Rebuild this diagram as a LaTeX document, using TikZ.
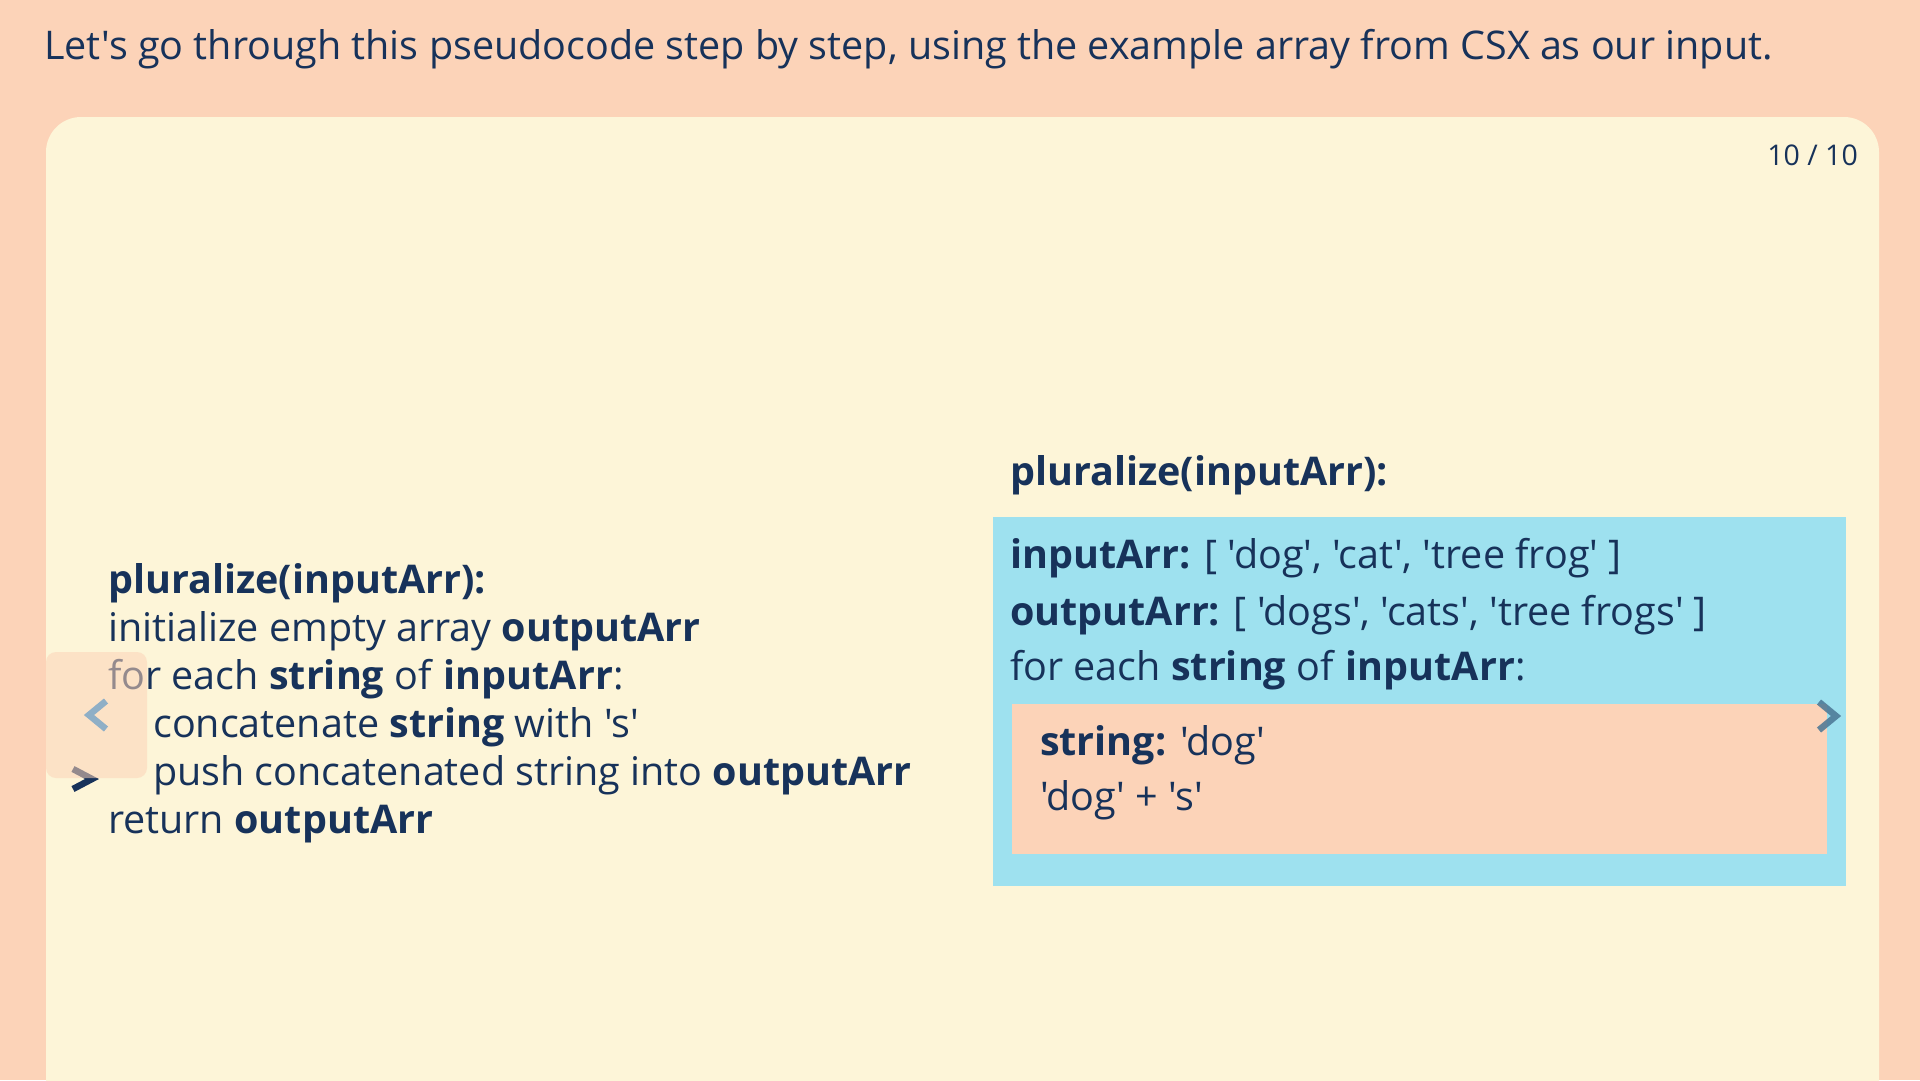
\documentclass[tikz,border=0pt]{standalone}
\usepackage{fontspec}
\setmainfont{Open Sans}[Ligatures=TeXOff]
\definecolor{peach}{HTML}{FCD3B8}
\definecolor{cream}{HTML}{FDF5D8}
\definecolor{skyb}{HTML}{9EE1EF}
\definecolor{navy}{HTML}{17325A}
\definecolor{chevgray}{HTML}{8FAFC6}
\definecolor{slate}{HTML}{4A7694}
\tikzset{
  txt/.style={anchor=base west, inner sep=0pt, text=navy, font=\fontsize{39.5}{48}\selectfont},
  chev/.style={line width=6.5pt, line cap=butt, line join=miter}
}
\begin{document}
\begin{tikzpicture}[x=1pt,y=-1pt]
\useasboundingbox (0,0) rectangle (1920,1080);
\fill[peach] (0,0) rectangle (1920,1080);
\fill[cream, rounded corners=35pt] (46,117) rectangle (1879,1130);
% header
\node[txt, font=\fontsize{39.5}{44}\selectfont] (head) at (44,59) {Let's go through this pseudocode step by step, using the example array from CSX as our input.};
\node[txt, font=\fontsize{28.5}{36}\selectfont, anchor=base east] (count) at (1858,165) {10 / 10};
% left code
\node[txt] (l1) at (108,593) {\textbf{pluralize(inputArr):}};
\node[txt] (l2) at (108,641) {initialize empty array \textbf{outputArr}};
\node[txt] (l3) at (108,689) {for each \textbf{string} of \textbf{inputArr}:};
\node[txt] (l4) at (153,737) {concatenate \textbf{string} with 's'};
\node[txt] (l5) at (153,785) {push concatenated string into \textbf{outputArr}};
\node[txt] (l6) at (108,833) {return \textbf{outputArr}};
% current-line marker
\coordinate (m1) at (73,769);
\coordinate (m2) at (92,779);
\coordinate (m3) at (73,789);
\draw[chev, navy] (m1) -- (m2) -- (m3);
% faded prev button
\fill[peach, opacity=0.55, rounded corners=10pt] (46,652) rectangle (147,778);
\coordinate (p1) at (106,701);
\coordinate (p2) at (89,715);
\coordinate (p3) at (106,729);
\draw[chev, chevgray] (p1) -- (p2) -- (p3);
% right side
\node[txt] (rtitle) at (1010,485) {\textbf{pluralize(inputArr):}};
\node[fill=skyb, inner sep=0pt, minimum width=853pt, minimum height=369pt, anchor=north west] (blue) at (993,517) {};
\node[txt] (r1) at (1010,568) {\textbf{inputArr:} [ 'dog', 'cat', 'tree frog' ]};
\node[txt] (r2) at (1010,625) {\textbf{outputArr:} [ 'dogs', 'cats', 'tree frogs' ]};
\node[txt] (r3) at (1010,680) {for each \textbf{string} of \textbf{inputArr}:};
\node[fill=peach, inner sep=0pt, minimum width=815pt, minimum height=150pt, anchor=north west] (inner) at (1012,704) {};
\node[txt] (s1) at (1040,755) {\textbf{string:} 'dog'};
\node[txt] (s2) at (1040,810) {'dog' + 's'};
% next button
\coordinate (n1) at (1819,702);
\coordinate (n2) at (1836,716);
\coordinate (n3) at (1819,730);
\draw[chev, slate, opacity=0.85] (n1) -- (n2) -- (n3);
\end{tikzpicture}
\end{document}
